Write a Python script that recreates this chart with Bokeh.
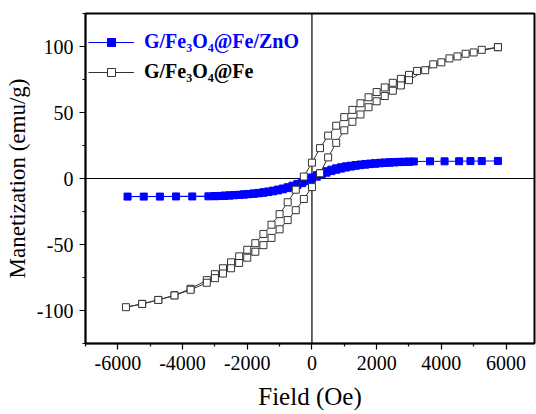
from bokeh.plotting import figure
from bokeh.models import Range1d, Span, Legend, LegendItem, FixedTicker
from bokeh.embed import file_html
from bokeh.resources import INLINE

# ---------------- data ----------------
# G/Fe3O4@Fe/ZnO (blue) : descending branch then ascending branch
blue_desc_field = [5750, 5250, 4900, 4550, 4100, 3650, 3150,
                   3000, 2850, 2700, 2550, 2400, 2250, 2100, 1950, 1800, 1650,
                   1500, 1350, 1200, 1050, 900, 750, 600, 450, 300, 150,
                   0, -150, -300, -450, -600, -750, -900, -1050, -1200, -1350,
                   -1500, -1650, -1800, -1950, -2100, -2250, -2400, -2550, -2700, -2850, -3000,
                   -3200, -3700, -4200, -4700, -5200, -5700]
blue_desc_mag = [13.3, 13.2, 13.2, 13.1, 13.0, 13.0, 12.9,
                 12.8, 12.7, 12.6, 12.5, 12.3, 12.1, 11.9, 11.6, 11.3, 11.0,
                 10.6, 10.2, 9.7, 9.2, 8.5, 7.7, 6.7, 5.5, 4.1, 2.5,
                 0.8, -0.9, -2.6, -4.1, -5.4, -6.6, -7.6, -8.4, -9.2, -9.8,
                 -10.4, -10.9, -11.3, -11.7, -12.0, -12.3, -12.5, -12.8, -13.0, -13.2, -13.3,
                 -13.5, -13.6, -13.6, -13.7, -13.7, -13.7]
blue_asc_field = [-3000, -2850, -2700, -2550, -2400, -2250, -2100, -1950, -1800, -1650,
                  -1500, -1350, -1200, -1050, -900, -750, -600, -450, -300, -150,
                  0, 150, 300, 450, 600, 750, 900, 1050, 1200, 1350,
                  1500, 1650, 1800, 1950, 2100, 2250, 2400, 2550, 2700, 2850, 3000]
blue_asc_mag = [-13.4, -13.3, -13.1, -12.9, -12.7, -12.5, -12.2, -11.9, -11.6, -11.2,
                -10.8, -10.3, -9.7, -9.0, -8.2, -7.3, -6.2, -4.9, -3.5, -1.9,
                -0.3, 1.4, 3.0, 4.4, 5.6, 6.6, 7.5, 8.3, 9.0, 9.6,
                10.1, 10.5, 10.9, 11.2, 11.5, 11.8, 12.0, 12.2, 12.4, 12.5, 12.6]

# G/Fe3O4@Fe (black, open squares) : descending branch then ascending branch
blk_desc_field = [5750, 5250, 4750, 4250, 3750, 3250, 3000, 2750, 2500, 2250,
                  2000, 1750, 1500, 1250, 1000, 750, 500, 250, 0, -250,
                  -500, -750, -1000, -1250, -1500, -1750, -2000, -2250, -2500, -2750,
                  -3000, -3250, -3750, -4250, -4750, -5250, -5750]
blk_desc_mag = [99.5, 97.5, 94.5, 91, 86.5, 81.5, 78.5, 75.5, 72.5, 69,
                65.5, 61.5, 57, 52, 46.5, 40, 32.5, 23, 12, 1.5,
                -8.5, -18, -27, -35, -42, -49, -54, -59, -63.5, -68,
                -72.5, -77, -83.5, -88.5, -92, -95, -97.5]
blk_asc_field = [-5250, -4750, -4250, -3750, -3250, -3000, -2750, -2500, -2250, -2000,
                 -1750, -1500, -1250, -1000, -750, -500, -250, 0, 250, 500,
                 750, 1000, 1250, 1500, 1750, 2000, 2250, 2500, 2750, 3000,
                 3500, 4000, 4500, 5000, 5750]
blk_asc_mag = [-95, -92, -88.6, -84.3, -79, -75.5, -72, -68, -64, -60,
               -55.5, -50.5, -45, -38.5, -31.5, -24, -15.5, -6.5, 4, 16,
               27, 36.5, 43, 48.5, 54, 58.5, 62.5, 66.5, 70.5, 74.5,
               82, 88, 92.5, 95.5, 99.5]

x_ticks = [-6000, -4000, -2000, 0, 2000, 4000, 6000]
x_tick_labels = ["-6000", "-4000", "-2000", "0", "2000", "4000", "6000"]
x_minor = [-7000, -5000, -3000, -1000, 1000, 3000, 5000]
y_ticks = [-100, -50, 0, 50, 100]
y_tick_labels = ["-100", "-50", "0", "50", "100"]
y_minor = [-125, -75, -25, 25, 75, 125]

series_labels = ["G/Fe\u2083O\u2084@Fe/ZnO", "G/Fe\u2083O\u2084@Fe"]

# ---------------- figure ----------------
FONT = "'Liberation Serif', 'Times New Roman', serif"

p = figure(width=536, height=414, output_backend="svg", toolbar_location=None,
           x_range=Range1d(-7000, 6880), y_range=Range1d(-125, 125),
           min_border_left=85, min_border_right=2, min_border_top=13, min_border_bottom=71)
p.grid.visible = False
p.background_fill_color = "white"
p.border_fill_color = "white"
p.outline_line_color = "black"
p.outline_line_width = 2

p.xaxis.ticker = FixedTicker(ticks=x_ticks, minor_ticks=x_minor)
p.xaxis.major_label_overrides = {t: l for t, l in zip(x_ticks, x_tick_labels)}
p.yaxis.ticker = FixedTicker(ticks=y_ticks, minor_ticks=y_minor)
p.yaxis.major_label_overrides = {t: l for t, l in zip(y_ticks, y_tick_labels)}

for ax in (p.xaxis, p.yaxis):
    ax.axis_line_width = 1.5
    ax.axis_line_color = "black"
    ax.major_tick_in = 0
    ax.major_tick_out = 6
    ax.minor_tick_in = 0
    ax.minor_tick_out = 3
    ax.major_tick_line_width = 1.2
    ax.minor_tick_line_width = 1.2
    ax.major_label_text_font = FONT
    ax.major_label_text_font_size = "20px"
    ax.major_label_text_color = "black"
    ax.major_label_standoff = 6
    ax.axis_label_text_font = FONT
    ax.axis_label_text_font_style = "normal"
    ax.axis_label_text_color = "black"

p.xaxis.axis_label = "Field (Oe)"
p.xaxis.axis_label_text_font_size = "25px"
p.xaxis.axis_label_standoff = 10
p.yaxis.axis_label = "Manetization (emu/g)"
p.yaxis.axis_label_text_font_size = "23px"
p.yaxis.axis_label_standoff = 4

p.add_layout(Span(location=0, dimension="width", line_color="black", line_width=1.2, level="underlay"))
p.add_layout(Span(location=0, dimension="height", line_color="black", line_width=1.2, level="underlay"))

blue_x = blue_desc_field + blue_asc_field
blue_y = blue_desc_mag + blue_asc_mag
blk_x = blk_desc_field + blk_asc_field
blk_y = blk_desc_mag + blk_asc_mag

bl = p.line(blue_x, blue_y, line_color="#0000ff", line_width=1)
bs = p.scatter(blue_x, blue_y, marker="square", size=7, fill_color="#0000ff", line_color="#0000ff")
kl = p.line(blk_x, blk_y, line_color="#333333", line_width=1)
ks = p.scatter(blk_x, blk_y, marker="square", size=7, fill_color="white", line_color="#333333", line_width=1)

def make_legend(label, rends, color, loc):
    lg = Legend(items=[LegendItem(label=label, renderers=rends)], location=loc,
                glyph_width=46, glyph_height=20, label_standoff=10,
                padding=0, margin=0, spacing=0,
                label_text_font=FONT, label_text_font_size="20px",
                label_text_font_style="bold", label_text_color=color,
                background_fill_alpha=0, border_line_alpha=0)
    return lg

p.add_layout(make_legend(series_labels[0], [bl, bs], "#0000ff", (3, 290)))
p.add_layout(make_legend(series_labels[1], [kl, ks], "black", (3, 260)))

open("out.html", "w").write(file_html(p, INLINE))
